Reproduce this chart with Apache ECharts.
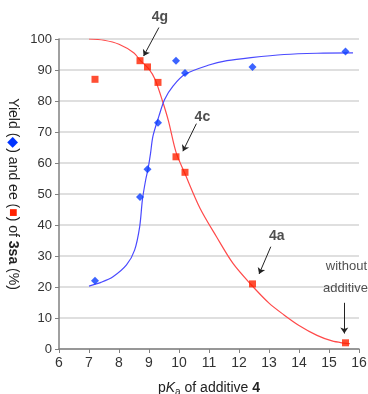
<!DOCTYPE html>
<html>
<head>
<meta charset="utf-8">
<script src="https://cdn.jsdelivr.net/npm/echarts@6/dist/echarts.min.js"></script>
<style>
  html, body { margin: 0; padding: 0; background: #fff; }
  #chart { width: 368px; height: 394px; }
</style>
</head>
<body>
<div id="chart"></div>
<script>
// measured points (pKa of additive vs yield / ee)
var pKa = [7.2, 8.7, 8.95, 9.3, 9.9, 10.2, 12.45, 15.55];
var yieldVals = [22, 49, 58, 73, 93, 89, 91, 96];
var eeVals = [87, 93, 91, 86, 62, 57, 21, 2];

// fitted curves
var eeCurveX = [7.0, 7.5, 8.0, 8.5, 8.7, 9.0, 9.2, 9.45, 9.65, 9.9, 10.2, 10.7, 11.25, 11.8, 12.4, 13.0, 13.5, 14.0, 14.6, 15.1, 15.5, 15.7];
var eeCurveY = [100, 99.6, 98.3, 95.5, 93.2, 90.3, 87, 80, 73.5, 63.5, 56.5, 45.4, 36.2, 27.6, 20.8, 14.8, 11, 7.6, 4.4, 2.6, 1.9, 1.7];
var yieldCurveX = [7.0, 7.4, 7.8, 8.25, 8.52, 8.69, 8.78, 8.89, 8.97, 9.05, 9.13, 9.33, 9.52, 9.8, 10.2, 11.0, 11.6, 12.4, 13.5, 14.6, 15.8];
var yieldCurveY = [20.3, 21.5, 23.3, 27.1, 31.9, 39.5, 48.1, 54.6, 58.2, 63, 68.6, 75.1, 80.5, 84.8, 88.6, 91.6, 93, 94, 95, 95.4, 95.5];

// annotations
var noteText = ['4g', '4c', '4a', 'without', 'additive'];
var noteX = [9.36, 10.78, 13.26, 15.58, 15.55];
var noteY = [107, 74.9, 36.5, 26.5, 19.5];
var arrowFrom = [[9.33, 103.7], [10.58, 72.7], [13.06, 33.0], [15.51, 14.9]];
var arrowTo = [[8.82, 94.5], [10.13, 63.8], [12.67, 24.2], [15.51, 5.0]];

function zip(xs, ys) {
  return xs.map(function (x, i) { return [x, ys[i]]; });
}

var FONT = '"Liberation Sans", Arial, sans-serif';
var chart = echarts.init(document.getElementById('chart'));

chart.setOption({
  animation: false,
  textStyle: { fontFamily: FONT },
  grid: { left: 59, top: 39, right: 9, bottom: 45, containLabel: false, outerBoundsMode: 'none' },
  xAxis: {
    type: 'value',
    min: 6,
    max: 16,
    interval: 1,
    splitLine: { show: false },
    axisLine: { lineStyle: { color: '#808080', width: 1.5 } },
    axisTick: { length: 4, lineStyle: { color: '#808080' } },
    axisLabel: { fontSize: 14, color: '#333', margin: 7 },
    name: '{a|p}{i|K}{s|a}{a| of additive }{b|4}',
    nameLocation: 'middle',
    nameGap: 30,
    nameTextStyle: {
      rich: {
        a: { fontSize: 14, color: '#222', fontFamily: FONT },
        i: { fontSize: 14, color: '#222', fontStyle: 'italic', fontFamily: FONT },
        s: { fontSize: 10, color: '#222', fontFamily: FONT, padding: [8, 0, 0, 0] },
        b: { fontSize: 14, color: '#222', fontWeight: 'bold', fontFamily: FONT }
      }
    }
  },
  yAxis: {
    type: 'value',
    min: 0,
    max: 100,
    interval: 10,
    axisLine: { show: true, lineStyle: { color: '#808080', width: 1.5 } },
    axisTick: { show: true, length: 4, lineStyle: { color: '#808080' } },
    splitLine: { lineStyle: { color: '#d4d4d4', width: 1.5 } },
    axisLabel: { fontSize: 13, color: '#333', margin: 7 },
    name: '{a|Yield (}{d|◆}{a|) and ee (}{q|■}{a|) of }{b|3sa}{a| (%)}',
    nameLocation: 'middle',
    nameRotate: -90,
    nameGap: 37,
    nameTextStyle: {
      rich: {
        a: { fontSize: 14, color: '#222', fontFamily: FONT },
        d: { fontSize: 14, color: '#0033ff' },
        q: { fontSize: 14, color: '#ff2200' },
        b: { fontSize: 14, color: '#222', fontWeight: 'bold', fontFamily: FONT }
      }
    }
  },
  series: [
    {
      name: 'ee fit',
      type: 'line',
      data: zip(eeCurveX, eeCurveY),
      smooth: 0.3,
      showSymbol: false,
      lineStyle: { color: '#ff4a4a', width: 1.2 },
      z: 2
    },
    {
      name: 'yield fit',
      type: 'line',
      data: zip(yieldCurveX, yieldCurveY),
      smooth: 0.3,
      showSymbol: false,
      lineStyle: { color: '#4a4aff', width: 1.2 },
      z: 2
    },
    {
      name: 'yield',
      type: 'scatter',
      data: zip(pKa, yieldVals),
      symbol: 'diamond',
      symbolSize: 8,
      itemStyle: { color: '#0a3cff' },
      z: 3
    },
    {
      name: 'ee',
      type: 'scatter',
      data: zip(pKa, eeVals),
      symbol: 'rect',
      symbolSize: 7,
      itemStyle: { color: '#ff2200' },
      z: 3
    },
    {
      name: 'arrows',
      type: 'lines',
      coordinateSystem: 'cartesian2d',
      clip: false,
      silent: true,
      symbol: ['none', 'arrow'],
      symbolSize: 6,
      lineStyle: { color: '#222', width: 1, opacity: 1 },
      data: arrowFrom.map(function (p, i) {
        return { coords: [p, arrowTo[i]] };
      }),
      z: 4
    },
    {
      name: 'notes',
      type: 'scatter',
      clip: false,
      silent: true,
      symbolSize: 0,
      data: noteText.map(function (t, i) {
        var bold = t.length <= 2;
        return {
          value: [noteX[i], noteY[i]],
          label: {
            show: true,
            position: 'inside',
            formatter: t,
            fontSize: bold ? 14 : 13,
            fontWeight: bold ? 'bold' : 'normal',
            color: '#222'
          }
        };
      }),
      z: 4
    }
  ]
});
</script>
</body>
</html>
